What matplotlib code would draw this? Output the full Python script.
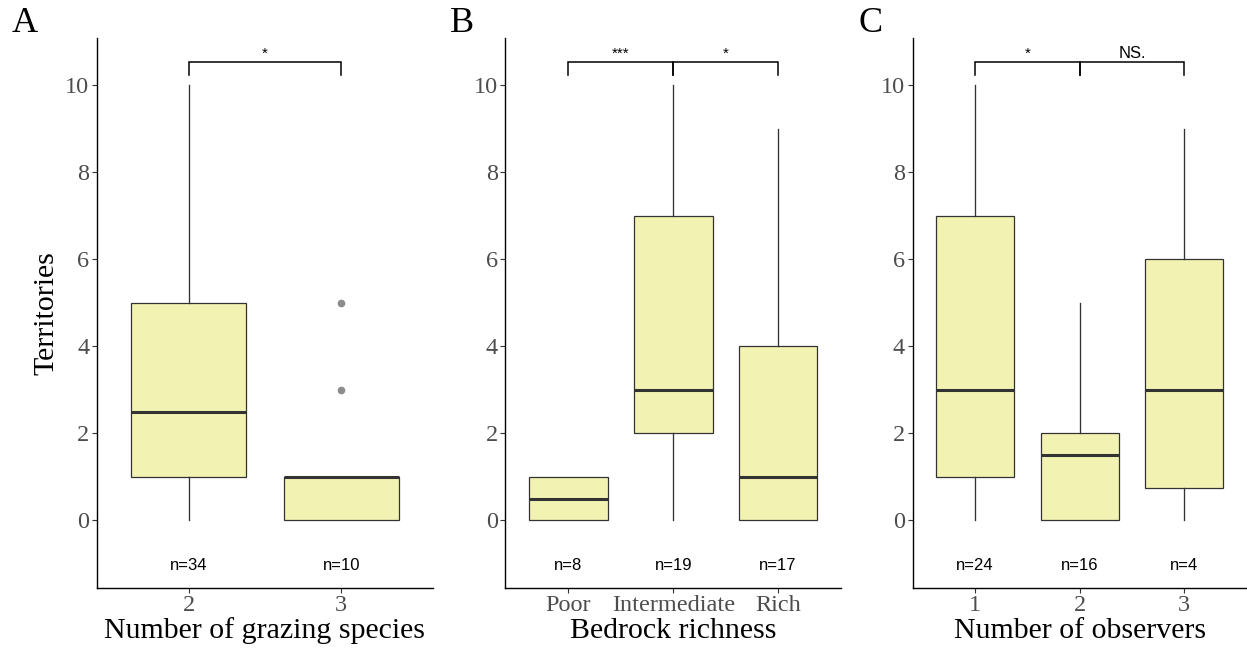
import matplotlib
matplotlib.use("Agg")
import matplotlib.pyplot as plt

# ---- data -------------------------------------------------------------
grazing_labels = ["2", "3"]
grazing_whislo = [0, 0]
grazing_q1 = [1, 0]
grazing_med = [2.5, 1]
grazing_q3 = [5, 1]
grazing_whishi = [10, 1]
grazing_fliers = [[], [3, 5]]
grazing_n = [34, 10]

bedrock_labels = ["Poor", "Intermediate", "Rich"]
bedrock_whislo = [0, 0, 0]
bedrock_q1 = [0, 2, 0]
bedrock_med = [0.5, 3, 1]
bedrock_q3 = [1, 7, 4]
bedrock_whishi = [1, 10, 9]
bedrock_fliers = [[], [], []]
bedrock_n = [8, 19, 17]

observer_labels = ["1", "2", "3"]
observer_whislo = [0, 0, 0]
observer_q1 = [1, 0, 0.75]
observer_med = [3, 1.5, 3]
observer_q3 = [7, 2, 6]
observer_whishi = [10, 5, 9]
observer_fliers = [[], [], []]
observer_n = [24, 16, 4]

# significance brackets: (left group, right group, label)
grazing_sig = [(1, 2, "*")]
bedrock_sig = [(1, 2, "***"), (2, 3, "*")]
observer_sig = [(1, 2, "*"), (2, 3, "NS.")]

panels = [
    ("A", "Number of grazing species", grazing_labels, grazing_whislo, grazing_q1,
     grazing_med, grazing_q3, grazing_whishi, grazing_fliers, grazing_n, grazing_sig),
    ("B", "Bedrock richness", bedrock_labels, bedrock_whislo, bedrock_q1,
     bedrock_med, bedrock_q3, bedrock_whishi, bedrock_fliers, bedrock_n, bedrock_sig),
    ("C", "Number of observers", observer_labels, observer_whislo, observer_q1,
     observer_med, observer_q3, observer_whishi, observer_fliers, observer_n, observer_sig),
]

# ---- styling ----------------------------------------------------------
SERIF = ["Liberation Serif", "DejaVu Serif"]
SANS = ["Liberation Sans", "DejaVu Sans"]
FILL = "#F2F2B2"
DARK = "#333333"

W, H = 1247, 650
fig = plt.figure(figsize=(W / 100, H / 100), dpi=100)

# axes rectangles in pixels: (left, right), plus panel-letter x position
x_extent = [(97, 433), (505.5, 841), (912.5, 1247)]
letter_x = [12, 450, 858]
y_bottom, y_top = 587.5, 38

ylim = (-1.54, 11.08)
bracket_y = 10.53
bracket_tip = 10.23
label_y = 10.72
n_y = -1.03

for (letter, xlabel, labels, wlo, q1, med, q3, whi, fl, nn, sig), (xl, xr), lx in zip(
        panels, x_extent, letter_x):
    ax = fig.add_axes([xl / W, (H - y_bottom) / H, (xr - xl) / W, (y_bottom - y_top) / H])
    stats = []
    for i, lab in enumerate(labels):
        stats.append(dict(label=lab, whislo=wlo[i], q1=q1[i], med=med[i],
                          q3=q3[i], whishi=whi[i], fliers=fl[i]))
    pos = list(range(1, len(labels) + 1))
    ax.bxp(stats, positions=pos, widths=0.75, showcaps=False, patch_artist=True,
           boxprops=dict(facecolor=FILL, edgecolor=DARK, linewidth=0.9),
           whiskerprops=dict(color=DARK, linewidth=0.95),
           medianprops=dict(color=DARK, linewidth=2.2, solid_capstyle="butt"),
           flierprops=dict(marker="o", markerfacecolor="#8c8c8c",
                           markeredgecolor="#8c8c8c", markersize=4.5))
    ax.set_xlim(0.4, len(labels) + 0.6)
    ax.set_ylim(*ylim)
    ax.set_yticks([0, 2, 4, 6, 8, 10])
    ax.set_xticks(pos)
    ax.set_xticklabels(labels)

    for s in ("top", "right"):
        ax.spines[s].set_visible(False)
    for s in ("left", "bottom"):
        ax.spines[s].set_linewidth(1.0)
        ax.spines[s].set_color("black")
    ax.tick_params(axis="both", length=3.5, width=0.8, color=DARK,
                   labelcolor="#4D4D4D", labelsize=17.5, pad=2)
    for t in ax.get_xticklabels() + ax.get_yticklabels():
        t.set_family(SERIF)

    ax.set_xlabel(xlabel, family=SERIF, fontsize=21.5, labelpad=1)
    if letter == "A":
        ax.set_ylabel("Territories", family=SERIF, fontsize=21.5, labelpad=4)

    # sample sizes
    for p, n in zip(pos, nn):
        ax.text(p, n_y, f"n={n}", ha="center", va="center",
                family=SANS, fontsize=12, color="black")

    # significance brackets
    for a, b, txt in sig:
        ax.plot([a, a, b, b], [bracket_tip, bracket_y, bracket_y, bracket_tip],
                color="black", linewidth=1.1, solid_joinstyle="miter")
        ax.text((a + b) / 2, label_y, txt, ha="center", va="center",
                family=SANS, fontsize=12 if txt == "NS." else 11)

    fig.text(lx / W, (H - 23) / H, letter, family=SERIF, fontsize=26,
             ha="left", va="center")

fig.savefig("out.png", dpi=100, facecolor="white")
